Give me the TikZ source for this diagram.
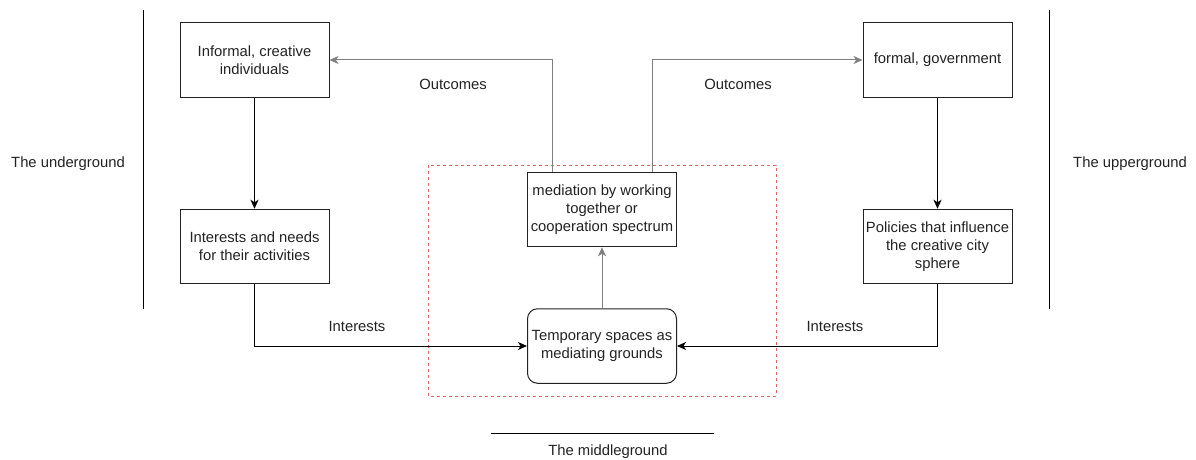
\documentclass[tikz,border=0pt]{standalone}
\usepackage{fontspec}
\setmainfont{Liberation Sans}
\usetikzlibrary{arrows.meta,positioning}
\definecolor{txt}{HTML}{222222}
\definecolor{edge}{HTML}{222222}
\definecolor{grayline}{HTML}{808080}
\definecolor{dashred}{HTML}{E06666}
\tikzset{
  box/.style={draw=edge, line width=1pt, minimum width=149pt, minimum height=74.5pt, inner sep=2pt,
    align=center, text=txt, font=\fontsize{14.8}{17.8}\selectfont},
  rbox/.style={box, rounded corners=10pt},
  lbl/.style={text=txt, font=\fontsize{14.8}{17.8}\selectfont, inner sep=0pt},
  blk/.style={draw=black, line width=1pt, -{Stealth[length=9pt,width=8pt,inset=2.5pt]}},
  gry/.style={draw=grayline, line width=1pt, -{Stealth[length=9pt,width=8pt,inset=2.5pt]}},
  sep/.style={draw=black, line width=1pt},
}
\begin{document}
\begin{tikzpicture}[x=1pt,y=-1pt]
\useasboundingbox (0,0) rectangle (1196,460);
% dashed frame
\draw[dashred, line width=1pt, dash pattern=on 3pt off 3pt] (428,165) rectangle (776,396);
% nodes
\node[box] (inf) at (254.5,60) {Informal, creative\\individuals};
\node[box] (int) at (254.5,246.5) {Interests and needs\\for their activities};
\node[box] (med) at (602,209.5) {mediation by working\\together or\\cooperation spectrum};
\node[rbox] (tmp) at (602,346) {Temporary spaces as\\mediating grounds};
\node[box] (frm) at (937.5,60) {formal, government};
\node[box] (pol) at (937.5,246.5) {Policies that influence\\the creative city\\sphere};
% labels
\node[lbl] (lu) at (68,164) {The underground};
\node[lbl] (lp) at (1130,164) {The upperground};
\node[lbl] (lm) at (608,452) {The middleground};
\node[lbl] (o1) at (453,84) {Outcomes};
\node[lbl] (o2) at (738,84) {Outcomes};
\node[lbl] (i1) at (357,326) {Interests};
\node[lbl] (i2) at (835,326) {Interests};
% separators
\coordinate (s1a) at (143,10); \coordinate (s1b) at (143,309);
\coordinate (s2a) at (1049,10); \coordinate (s2b) at (1049,309);
\coordinate (s3a) at (491,433); \coordinate (s3b) at (714,433);
\draw[sep] (s1a) -- (s1b);
\draw[sep] (s2a) -- (s2b);
\draw[sep] (s3a) -- (s3b);
% connectors
\draw[blk] (inf.south) -- (int.north);
\draw[blk] (frm.south) -- (pol.north);
\draw[blk] (int.south) |- (tmp.west);
\draw[blk] (pol.south) |- (tmp.east);
\draw[gry] (tmp.north) -- (med.south);
\draw[gry] ([xshift=-50pt]med.north) |- (inf.east);
\draw[gry] ([xshift=50pt]med.north) |- (frm.west);
\end{tikzpicture}
\end{document}
